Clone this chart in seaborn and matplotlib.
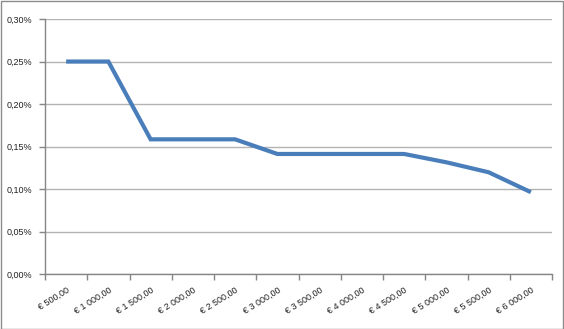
import matplotlib
matplotlib.use("Agg")
import matplotlib.pyplot as plt
import matplotlib.ticker as mticker
from matplotlib.patches import Rectangle
import seaborn as sns
import pandas as pd

categories = ["€ 500,00", "€ 1 000,00", "€ 1 500,00", "€ 2 000,00", "€ 2 500,00", "€ 3 000,00",
              "€ 3 500,00", "€ 4 000,00", "€ 4 500,00", "€ 5 000,00", "€ 5 500,00", "€ 6 000,00"]
rates = [0.250, 0.250, 0.1586, 0.1586, 0.1586, 0.1414, 0.1414, 0.1414, 0.1414, 0.1316, 0.1199, 0.0965]
y_ticks = [0.00, 0.05, 0.10, 0.15, 0.20, 0.25, 0.30]
y_labels = ["0,00%", "0,05%", "0,10%", "0,15%", "0,20%", "0,25%", "0,30%"]

sns.set_theme(style="white")
plt.rcParams["font.family"] = ["Liberation Sans", "DejaVu Sans"]

df = pd.DataFrame({"idx": range(len(categories)), "rate": rates})

fig = plt.figure(figsize=(5.64, 3.29), dpi=100)
ax = fig.add_axes([45 / 564, 1 - 274.3 / 329, (552 - 45) / 564, (274.3 - 19) / 329])

sns.lineplot(data=df, x="idx", y="rate", ax=ax, color="#4A7EBB", linewidth=3.0,
             solid_capstyle="butt", solid_joinstyle="miter")

ax.set_xlim(-0.5, len(categories) - 0.5)
ax.set_ylim(0, 0.30)
ax.set_yticks(y_ticks)
ax.set_yticklabels(y_labels, fontsize=6.5, color="#222222")
ax.yaxis.grid(True, color="#B3B3B3", linewidth=1.0)
ax.set_axisbelow(True)

ax.set_xticks(range(len(categories)))
ax.set_xticklabels(categories, rotation=32, ha="right", rotation_mode="anchor",
                   fontsize=6.5, color="#222222")
ax.xaxis.set_minor_locator(mticker.FixedLocator([i - 0.5 for i in range(len(categories) + 1)]))
ax.tick_params(axis="x", which="major", length=0, pad=8)
ax.tick_params(axis="x", which="minor", length=4, color="#868686", width=1, direction="out", bottom=True)
ax.tick_params(axis="y", which="major", length=4, color="#868686", width=1, direction="out", left=True, pad=5)

ax.set_xlabel("")
ax.set_ylabel("")
for s in ["top", "right"]:
    ax.spines[s].set_visible(False)
for s in ["left", "bottom"]:
    ax.spines[s].set_color("#868686")
    ax.spines[s].set_linewidth(1.0)

fig.patches.append(Rectangle((0.5 / 564, 0.5 / 329), 1 - 1.5 / 564, 1 - 1.5 / 329,
                             transform=fig.transFigure, fill=False, edgecolor="#8C8C8C",
                             linewidth=1.0))

fig.savefig("out.png", dpi=100)
